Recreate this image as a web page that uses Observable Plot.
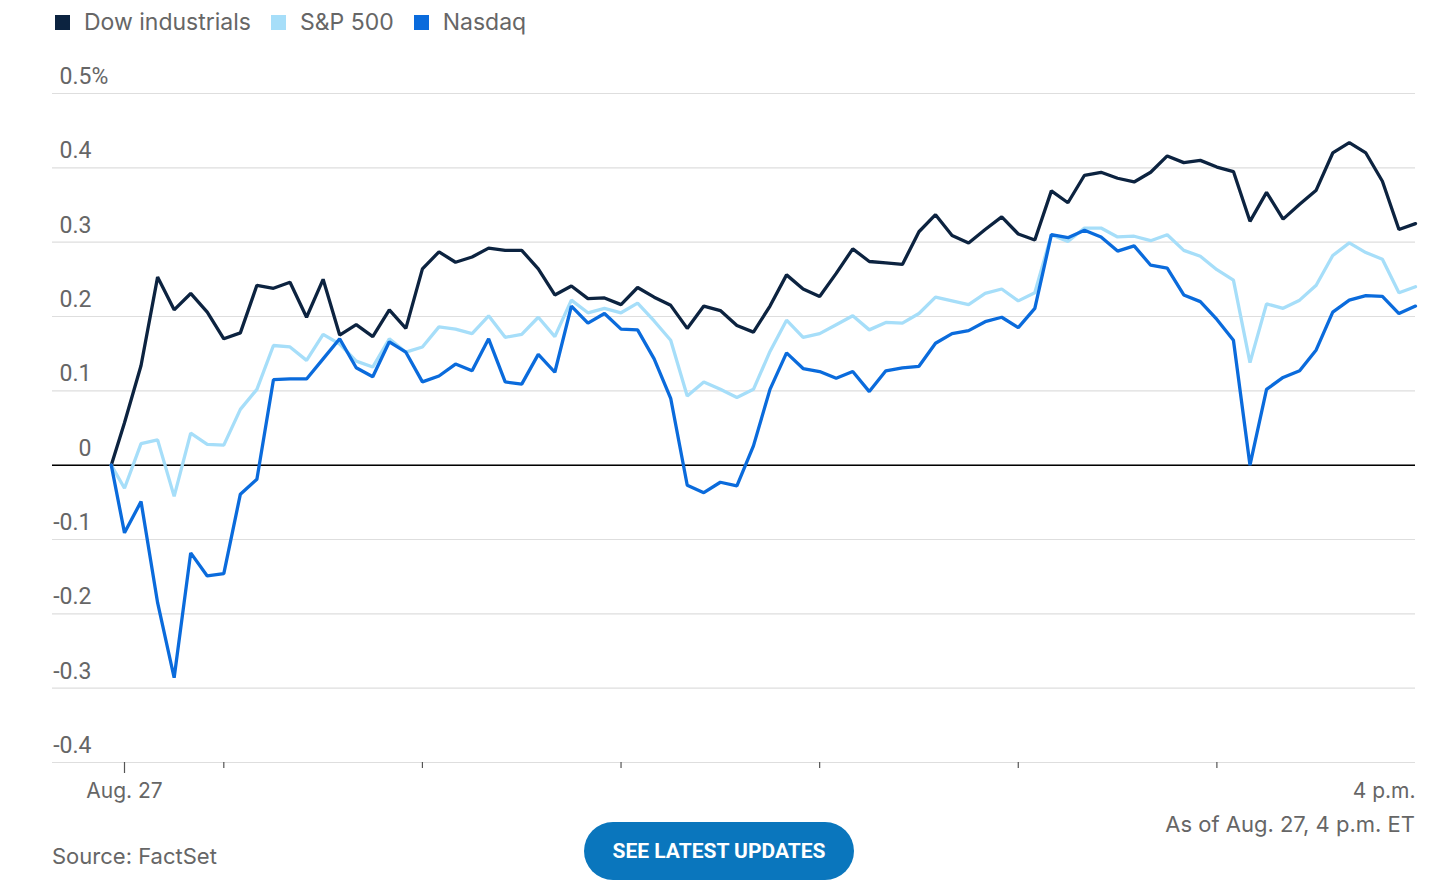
<!DOCTYPE html>
<html>
<head>
<meta charset="utf-8">
<script src="https://cdn.jsdelivr.net/npm/d3@7"></script>
<script src="https://cdn.jsdelivr.net/npm/@observablehq/plot@0.6"></script>
<style>
  html, body { margin: 0; padding: 0; background: #fff; }
  #wrap { position: relative; width: 1456px; height: 884px; font-family: Inter, Roboto, sans-serif; color: #666; }
  #legend { position: absolute; left: 55px; top: 8px; display: flex; align-items: center; font-size: 23px; line-height: 28px; }
  #legend .item { display: flex; align-items: center; margin-right: 20px; }
  #legend .sw { width: 15px; height: 15px; margin-right: 14px; }
  #chart { position: absolute; left: 0; top: 45px; }
  #asof { position: absolute; right: 41px; top: 810px; font-size: 22px; line-height: 28px; }
  #source { position: absolute; left: 52px; top: 842px; font-size: 22px; line-height: 28px; }
  #btn { position: absolute; left: 584px; top: 822px; width: 270px; height: 58px; border-radius: 29px; background: #0a76bd;
         color: #fff; display: flex; align-items: center; justify-content: center;
         font-family: "Liberation Sans Narrow", Roboto, sans-serif; font-weight: bold; font-size: 21px; letter-spacing: 0px; }
</style>
</head>
<body>
<div id="wrap">
  <div id="legend"></div>
  <div id="chart"></div>
  <div id="asof">As of Aug. 27, 4 p.m. ET</div>
  <div id="source">Source: FactSet</div>
  <div id="btn">SEE LATEST UPDATES</div>
</div>
<script>
// Series names and colours
const seriesNames = ["Dow industrials", "S&P 500", "Nasdaq"];
const seriesColors = ["#0c2340", "#a6def9", "#0a6bdc"];

// Time in minutes since midnight: prior close marker, then 5-minute bars 9:30 .. 16:00
const times = [566, ...d3.range(570, 961, 5)];

// Percent change values
const dow = [0,
  0.057,0.134,0.253,0.209,0.231,0.206,0.170,0.178,0.242,0.238,
  0.246,0.199,0.250,0.175,0.189,0.173,0.209,0.184,0.264,0.287,
  0.273,0.280,0.292,0.289,0.289,0.264,0.229,0.241,0.224,0.225,
  0.216,0.239,0.226,0.215,0.184,0.214,0.208,0.188,0.179,0.214,
  0.256,0.237,0.227,0.258,0.291,0.274,0.272,0.270,0.314,0.337,
  0.309,0.299,0.317,0.334,0.311,0.303,0.369,0.353,0.390,0.394,
  0.386,0.381,0.394,0.416,0.407,0.410,0.401,0.395,0.328,0.367,
  0.331,0.351,0.370,0.420,0.434,0.420,0.382,0.317,0.325];
const sp500 = [0,
  -0.031,0.029,0.034,-0.042,0.043,0.028,0.027,0.075,0.102,0.161,
  0.159,0.141,0.176,0.163,0.140,0.132,0.170,0.152,0.159,0.186,
  0.183,0.177,0.201,0.172,0.176,0.199,0.173,0.222,0.205,0.211,
  0.205,0.218,0.194,0.168,0.093,0.112,0.102,0.091,0.102,0.153,
  0.195,0.172,0.177,0.189,0.201,0.182,0.192,0.191,0.204,0.226,
  0.221,0.216,0.231,0.237,0.221,0.232,0.310,0.301,0.319,0.319,
  0.307,0.308,0.302,0.310,0.289,0.281,0.263,0.249,0.138,0.217,
  0.211,0.222,0.242,0.282,0.299,0.286,0.277,0.232,0.240];
const nasdaq = [0,
  -0.091,-0.049,-0.185,-0.286,-0.118,-0.149,-0.146,-0.039,-0.019,0.115,
  0.116,0.116,0.143,0.170,0.131,0.119,0.166,0.152,0.112,0.120,
  0.136,0.127,0.170,0.112,0.109,0.149,0.125,0.214,0.191,0.204,
  0.183,0.182,0.143,0.090,-0.027,-0.037,-0.023,-0.028,0.026,0.102,
  0.151,0.130,0.126,0.117,0.126,0.099,0.127,0.131,0.133,0.164,
  0.177,0.181,0.193,0.199,0.185,0.211,0.310,0.306,0.316,0.307,
  0.288,0.295,0.269,0.265,0.229,0.220,0.196,0.168,0.000,0.102,
  0.118,0.127,0.155,0.206,0.222,0.228,0.227,0.204,0.214];

// Axis ticks and labels
const yTicks = [-0.4, -0.3, -0.2, -0.1, 0, 0.1, 0.2, 0.3, 0.4, 0.5];
const yTickLabels = ["-0.4", "-0.3", "-0.2", "-0.1", "0", "0.1", "0.2", "0.3", "0.4", "0.5"];
const xTickFirst = [570];
const xTicksHours = [600, 660, 720, 780, 840, 900];
const xLabelStart = [{t: 570, label: "Aug. 27"}];
const xLabelEnd = [{t: 960, label: "4 p.m."}];

const allSeries = [dow, sp500, nasdaq];
const data = seriesNames.flatMap((name, s) => times.map((t, i) => ({series: name, t, v: allSeries[s][i]})));

// Legend
const legend = document.getElementById("legend");
seriesNames.forEach((n, i) => {
  const it = document.createElement("div");
  it.className = "item";
  it.innerHTML = `<span class="sw" style="background:${seriesColors[i]}"></span><span>${n.replace("&", "&amp;")}</span>`;
  legend.appendChild(it);
});

const chart = Plot.plot({
  width: 1456,
  height: 770,
  marginTop: 48,
  marginBottom: 53,
  marginLeft: 52,
  marginRight: 41,
  style: {fontFamily: "Inter, Roboto, sans-serif", fontSize: "21px", color: "#666", background: "#fff"},
  x: {domain: [548.25, 960], axis: null},
  y: {domain: [-0.4, 0.5], axis: null},
  color: {domain: seriesNames, range: seriesColors},
  marks: [
    Plot.gridY(yTicks, {stroke: "#dedede", strokeOpacity: 1, strokeWidth: 1.2}),
    Plot.ruleY([0], {stroke: "#000", strokeWidth: 1.5}),
    Plot.axisX(xTickFirst, {tickSize: 11, tickFormat: () => "", label: null, stroke: "#555", strokeWidth: 1.2}),
    Plot.axisX(xTicksHours, {tickSize: 6, tickFormat: () => "", label: null, stroke: "#555", strokeWidth: 1.2}),
    Plot.axisY(yTicks, {tickSize: 0, tickPadding: 0, dx: 39, dy: -17, textAnchor: "end", label: null,
      tickFormat: (d) => yTickLabels[yTicks.indexOf(d)], fill: "#666", fontSize: 23, fontFamily: "Roboto, sans-serif"}),
    Plot.text([0.5], {y: (d) => d, frameAnchor: "left", text: () => "%", textAnchor: "start", dx: 39, dy: -17, fill: "#666", fontSize: 23, fontFamily: "Roboto, sans-serif"}),
    Plot.text(xLabelStart, {x: "t", text: "label", frameAnchor: "bottom", dy: 35, textAnchor: "middle", fill: "#666", fontSize: 21}),
    Plot.text(xLabelEnd, {x: "t", text: "label", frameAnchor: "bottom", dy: 35, textAnchor: "end", fill: "#666", fontSize: 21}),
    Plot.line(data, {x: "t", y: "v", z: "series", stroke: "series", strokeWidth: 3.3, curve: "linear", strokeLinejoin: "miter"})
  ]
});
document.getElementById("chart").appendChild(chart);
</script>
</body>
</html>
